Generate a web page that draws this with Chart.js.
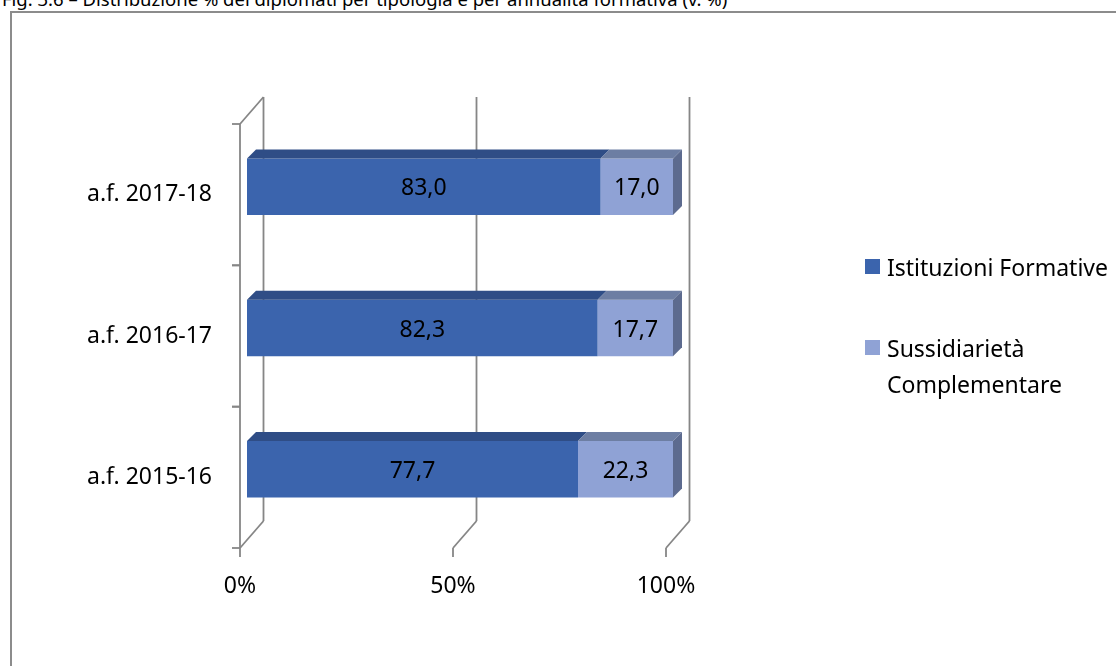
<!DOCTYPE html>
<html lang="it">
<head>
<meta charset="UTF-8">
<title>Diplomati per tipologia</title>
<script src="https://cdn.jsdelivr.net/npm/chart.js"></script>
<style>
  html, body { margin: 0; padding: 0; background: #fff; overflow: hidden; }
  body { width: 1116px; height: 666px; position: relative; font-family: 'Noto Sans', sans-serif; }
  #title { position: absolute; left: 2px; top: -10px; font-size: 18.5px; line-height: 1; white-space: nowrap; color: #000; }
  #frame { position: absolute; left: 10px; top: 11px; width: 2000px; height: 2000px; border: 2px solid #8c8c8c; }
  #chart { position: absolute; left: 0; top: 0; }
  .legend-item { position: absolute; left: 865px; font-size: 23px; line-height: 36px; color: #000; }
  .legend-item .box { position: absolute; left: 0; top: 10px; width: 15px; height: 15px; }
  .legend-item .txt { margin-left: 22px; width: 230px; }
</style>
</head>
<body>
<div id="title">Fig. 3.6 – Distribuzione % dei diplomati per tipologia e per annualità formativa (v. %)</div>
<div id="frame"></div>
<canvas id="chart" width="1116" height="666"></canvas>
<div id="legend"></div>

<script>
// anni formativi, dal più vecchio (in basso) al più recente (in alto)
const labels = ['a.f. 2015-16', 'a.f. 2016-17', 'a.f. 2017-18'];
const istituzioni = [77.7, 82.3, 83.0];
const sussidiarieta = [22.3, 17.7, 17.0];
const seriesNames = ['Istituzioni Formative', 'Sussidiarietà Complementare'];
const xTicks = [0, 50, 100];

const frontColors = ['#3b64ad', '#8fa2d5'];
const topColors = ['#2f4d86', '#6d7ea3'];
const sideColor = '#5d6b8f';

// prospettiva: parete di fondo e spostamento delle barre
const WALL = { dx: 23.5, dy: -27 };
const SHIFT = { dx: 7, dy: -8 };
const DEPTH = 9;

function fmt(v) { return v.toFixed(1).replace('.', ','); }

const walls3d = {
  id: 'walls3d',
  beforeDatasetsDraw(chart) {
    const { ctx, chartArea: a, scales: { x, y } } = chart;
    const line = (x1, y1, x2, y2) => { ctx.beginPath(); ctx.moveTo(x1, y1); ctx.lineTo(x2, y2); ctx.stroke(); };
    ctx.save();
    ctx.strokeStyle = '#868686';
    ctx.lineWidth = 1.8;
    xTicks.forEach(v => {
      const px = x.getPixelForValue(v);
      line(px + WALL.dx, a.top + WALL.dy, px + WALL.dx, a.bottom + WALL.dy);
      line(px + WALL.dx, a.bottom + WALL.dy, px, a.bottom);
      line(px, a.bottom, px, a.bottom + 9);
    });
    // parete laterale
    line(a.left, a.top, a.left, a.bottom);
    line(a.left, a.top, a.left + WALL.dx, a.top + WALL.dy);
    // tacche dell'asse delle categorie
    const band = Math.abs(y.getPixelForValue(1) - y.getPixelForValue(0));
    labels.forEach((l, i) => {
      const c = y.getPixelForValue(i);
      line(a.left - 8, c - band / 2, a.left, c - band / 2);
      line(a.left - 8, c + band / 2, a.left, c + band / 2);
    });
    ctx.restore();
    ctx.save();
    ctx.translate(SHIFT.dx, SHIFT.dy);
  },
  afterDatasetsDraw(chart) {
    const { ctx } = chart;
    const poly = pts => {
      ctx.beginPath();
      pts.forEach((p, i) => i ? ctx.lineTo(p[0], p[1]) : ctx.moveTo(p[0], p[1]));
      ctx.closePath();
      ctx.fill();
    };
    const last = chart.data.datasets.length - 1;
    chart.data.datasets.forEach((ds, di) => {
      chart.getDatasetMeta(di).data.forEach((bar, i) => {
        const { x: xe, y: yc, base, height } = bar.getProps(['x', 'y', 'base', 'height'], true);
        const top = yc - height / 2, bottom = yc + height / 2;
        ctx.fillStyle = topColors[di];
        poly([[base, top], [xe, top], [xe + DEPTH, top - DEPTH], [base + DEPTH, top - DEPTH]]);
        if (di === last) {
          ctx.fillStyle = sideColor;
          poly([[xe, top], [xe + DEPTH, top - DEPTH], [xe + DEPTH, bottom - DEPTH], [xe, bottom]]);
        }
        ctx.fillStyle = '#000';
        ctx.font = '23px "Noto Sans"';
        ctx.textAlign = 'center';
        ctx.textBaseline = 'middle';
        ctx.fillText(fmt(ds.data[i]), (base + xe) / 2, yc + 2);
      });
    });
    ctx.restore();
  }
};

Chart.defaults.font.family = '"Noto Sans", sans-serif';
Chart.defaults.font.size = 23;
Chart.defaults.color = '#000';

const chart = new Chart(document.getElementById('chart').getContext('2d'), {
  type: 'bar',
  data: {
    labels: labels,
    datasets: [
      { label: seriesNames[0], data: istituzioni, backgroundColor: frontColors[0] },
      { label: seriesNames[1], data: sussidiarieta, backgroundColor: frontColors[1] }
    ].map(d => Object.assign(d, { borderWidth: 0, categoryPercentage: 1, barPercentage: 0.4, clip: false }))
  },
  options: {
    indexAxis: 'y',
    responsive: false,
    animation: false,
    events: [],
    layout: { padding: { left: 0, top: 124, right: 450, bottom: 0 } },
    plugins: { legend: { display: false }, title: { display: false }, tooltip: { enabled: false } },
    scales: {
      x: {
        stacked: true, min: 0, max: 100,
        grid: { display: false }, border: { display: false },
        ticks: { stepSize: 50, padding: 17, callback: v => v + '%' },
        afterFit: s => { s.height = 118; }
      },
      y: {
        stacked: true, reverse: true,
        grid: { display: false }, border: { display: false },
        ticks: { padding: 20 },
        afterFit: s => { s.width = 240; }
      }
    }
  },
  plugins: [walls3d]
});

// legenda a destra
const legend = document.getElementById('legend');
const legendTops = [249, 330];
chart.data.datasets.forEach((ds, i) => {
  const item = document.createElement('div');
  item.className = 'legend-item';
  item.style.top = legendTops[i] + 'px';
  item.innerHTML = '<div class="box" style="background:' + ds.backgroundColor + '"></div><div class="txt"></div>';
  item.querySelector('.txt').textContent = ds.label;
  legend.appendChild(item);
});
</script>
</body>
</html>
